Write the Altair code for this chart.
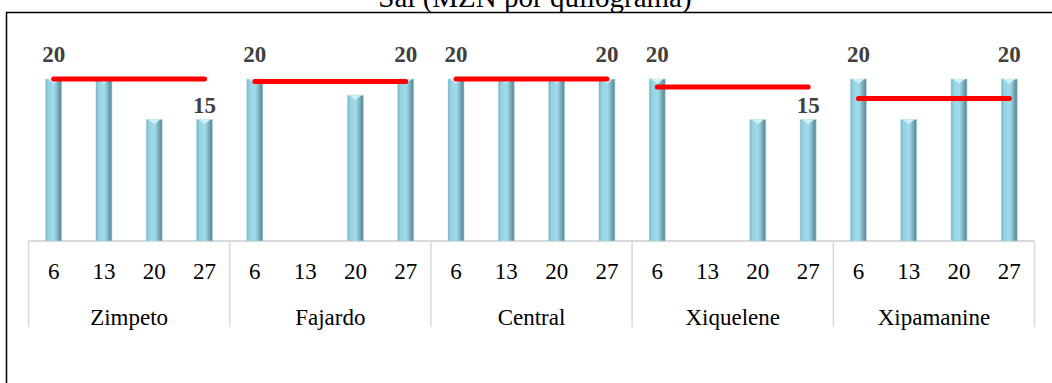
import altair as alt
import pandas as pd

# Weekly salt prices (MZN per kg) by market, for market days 6, 13, 20 and 27
markets = ["Zimpeto", "Fajardo", "Central", "Xiquelene", "Xipamanine"]
days = [6, 13, 20, 27]
zimpeto = [20, 20, 15, 15]
fajardo = [20, None, 18, 20]
central = [20, 20, 20, 20]
xiquelene = [20, None, 15, 15]
xipamanine = [20, 15, 20, 20]
price_series = [zimpeto, fajardo, central, xiquelene, xipamanine]

# Reference price per market (red line)
reference = [20, 19.7, 20, 19, 17.6]

title_text = "Sal (MZN por quilograma)"

SERIF = "Liberation Serif"

rows = []
for m_i, (market, series) in enumerate(zip(markets, price_series)):
    for d_i, (day, price) in enumerate(zip(days, series)):
        rows.append({"market": market, "day": day, "price": price,
                     "slot": m_i * len(days) + d_i})
table = pd.DataFrame(rows)
bars = table.dropna(subset=["price"]).copy()

# first and last priced day of each market carry a value label
first_last = bars.groupby("market")["slot"].agg(["min", "max"]).reset_index()
label_slots = set(first_last["min"]).union(first_last["max"])
labels = bars[bars["slot"].isin(label_slots)].copy()
labels["text"] = labels["price"].map(lambda v: f"{v:g}")
labels_top = labels[labels["price"] >= 20]
labels_low = labels[labels["price"] < 20]

ref_df = pd.DataFrame({
    "market": markets,
    "ref": reference,
    "x0": [first_last.set_index("market").loc[m, "min"] for m in markets],
    "x1": [first_last.set_index("market").loc[m, "max"] for m in markets],
})

n_slots = len(markets) * len(days)
bounds_df = pd.DataFrame({"bound": [i * len(days) - 0.5 for i in range(len(markets) + 1)]})
base_df = pd.DataFrame({"start": [-0.5], "end": [n_slots - 0.5], "level": [0]})
group_df = pd.DataFrame({"market": markets,
                         "center": [i * len(days) + (len(days) - 1) / 2 for i in range(len(markets))]})
day_df = table[["day", "slot"]].copy()

x_scale = alt.Scale(domain=[-0.5, n_slots - 0.5], range=[28.5, 1034.5], padding=0)
y_scale = alt.Scale(domain=[0, 20], range=[241, 79], padding=0)


def X(field):
    return alt.X(field, scale=x_scale, axis=None)


def Y(field):
    return alt.Y(field, scale=y_scale, axis=None)


one = pd.DataFrame({"k": [0]})

border = alt.Chart(one).mark_rect(
    fillOpacity=0, stroke="black", strokeWidth=1.5
).encode(x=alt.value(6.5), x2=alt.value(1100), y=alt.value(12.5), y2=alt.value(420))

title = alt.Chart(one).mark_text(
    text=title_text, font=SERIF, fontSize=29, color="black",
    align="center", baseline="alphabetic"
).encode(x=alt.value(535), y=alt.value(7))

separators = alt.Chart(bounds_df).mark_rule(color="#d9d9d9", strokeWidth=1.5).encode(
    x=X("bound:Q"), y=alt.value(241), y2=alt.value(327))

baseline = alt.Chart(base_df).mark_rule(color="#d9d9d9", strokeWidth=2).encode(
    x=X("start:Q"), x2="end:Q", y=Y("level:Q"))

bar_fill = alt.LinearGradient(
    gradient="linear", x1=0, x2=1, y1=0, y2=0,
    stops=[
        alt.GradientStop(color="#6aaabb", offset=0),
        alt.GradientStop(color="#94d2e2", offset=0.15),
        alt.GradientStop(color="#a2dbe9", offset=0.5),
        alt.GradientStop(color="#8cc6d5", offset=0.66),
        alt.GradientStop(color="#6c9dab", offset=0.84),
        alt.GradientStop(color="#5a8995", offset=1),
    ],
)

bar_layer = alt.Chart(bars).mark_bar(
    size=16, color=bar_fill, stroke="#b5dbe4", strokeWidth=0.6
).encode(x=X("slot:Q"), y=Y("price:Q"))

chevrons = alt.Chart(bars).mark_point(
    shape="M-0.75,0L0.75,0L0,0.6Z", size=256, filled=True,
    color="#cdf1f9", opacity=1, strokeWidth=0
).encode(x=X("slot:Q"), y=Y("price:Q"))

ref_lines = alt.Chart(ref_df).mark_rule(
    color="#ff0000", strokeWidth=5, strokeCap="round"
).encode(x=X("x0:Q"), x2="x1:Q", y=Y("ref:Q"))

label_style = dict(font=SERIF, fontSize=23, fontWeight="bold", color="#404040",
                   align="center", baseline="alphabetic")
value_top = alt.Chart(labels_top).mark_text(dy=-17, **label_style).encode(
    x=X("slot:Q"), y=Y("price:Q"), text="text:N")
value_low = alt.Chart(labels_low).mark_text(dy=-7, **label_style).encode(
    x=X("slot:Q"), y=Y("price:Q"), text="text:N")

day_labels = alt.Chart(day_df).mark_text(
    font=SERIF, fontSize=23, color="black", align="center", baseline="alphabetic"
).encode(x=X("slot:Q"), y=alt.value(279), text="day:N")

market_labels = alt.Chart(group_df).mark_text(
    font=SERIF, fontSize=23, color="black", align="center", baseline="alphabetic"
).encode(x=X("center:Q"), y=alt.value(325), text="market:N")

chart = alt.layer(
    border, separators, baseline, bar_layer, chevrons, ref_lines,
    value_top, value_low, day_labels, market_labels, title
).properties(
    width=1052, height=383, autosize=alt.AutoSizeParams(type="none"), padding=0,
    background="white"
).configure_view(stroke=None)

chart.save("out.html", embed_options={"renderer": "svg", "actions": False})
